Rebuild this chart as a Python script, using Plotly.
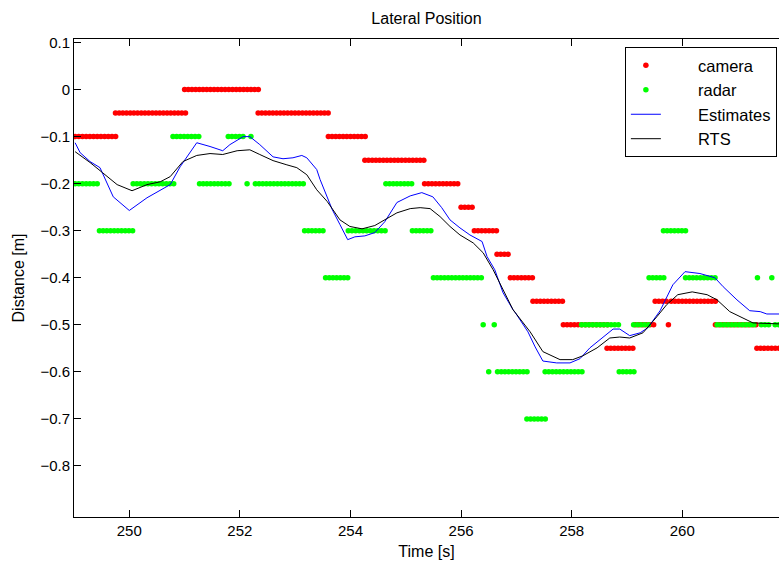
import numpy as np
import plotly.graph_objects as go

# ---- Camera measurements: runs of constant value (start time, end time, value) ----
camera_t_start = [249.02, 249.75, 251.00, 252.33, 253.60, 254.26, 255.34, 256.00, 256.24, 256.65,
                  256.89, 257.30, 257.85, 258.64, 259.15, 259.51, 259.75, 259.80, 260.60, 261.35]
camera_t_end   = [249.74, 250.99, 252.31, 253.58, 254.24, 255.32, 255.97, 256.22, 256.63, 256.87,
                  257.28, 257.83, 258.62, 259.13, 259.49, 259.71, 259.75, 260.58, 261.32, 261.75]
camera_value   = [-0.10, -0.05, 0.00, -0.05, -0.10, -0.15, -0.20, -0.25, -0.30, -0.35,
                  -0.40, -0.45, -0.50, -0.55, -0.50, -0.45, -0.50, -0.45, -0.50, -0.55]

# ---- Radar measurements: runs of constant value ----
radar_t_start = [249.02, 249.46, 250.07, 250.79, 251.27, 251.79, 252.13, 252.20, 252.28, 253.17,
                 253.55, 253.96, 254.64, 255.12, 255.50, 256.40, 256.50, 256.60, 256.66, 257.19,
                 257.52, 258.18, 258.86, 259.12, 259.40, 259.66, 260.06, 260.63, 261.36, 261.43,
                 261.62, 261.68]
radar_t_end   = [249.44, 250.05, 250.77, 251.25, 251.77, 252.07, 252.13, 252.20, 253.15, 253.53,
                 253.94, 254.62, 255.10, 255.48, 256.38, 256.40, 256.50, 256.60, 257.17, 257.50,
                 258.16, 258.84, 259.10, 259.38, 259.64, 260.04, 260.61, 261.32, 261.36, 261.58,
                 261.62, 261.75]
radar_value   = [-0.2, -0.3, -0.2, -0.1, -0.2, -0.1, -0.2, -0.1, -0.2, -0.3,
                 -0.4, -0.3, -0.2, -0.3, -0.4, -0.5, -0.6, -0.5, -0.6, -0.7,
                 -0.6, -0.5, -0.6, -0.5, -0.4, -0.3, -0.4, -0.5, -0.4, -0.5,
                 -0.4, -0.5]

sample_dt = 1.0 / 15.0  # sensor sample period

# ---- Filter estimates ----
est_t = [249.02, 249.11, 249.29, 249.47, 249.71, 250.00, 250.32, 250.74, 250.92, 251.22,
         251.46, 251.69, 251.82, 252.06, 252.18, 252.36, 252.60, 252.78, 252.96, 253.12,
         253.21, 253.39, 253.45, 253.54, 253.67, 253.81, 253.95, 254.08, 254.26, 254.44,
         254.62, 254.84, 255.08, 255.29, 255.49, 255.65, 255.80, 255.98, 256.16, 256.38,
         256.47, 256.61, 256.76, 256.94, 256.98, 257.21, 257.34, 257.48, 257.73, 257.97,
         258.15, 258.33, 258.51, 258.75, 258.87, 259.05, 259.24, 259.38, 259.60, 259.83,
         260.05, 260.32, 260.59, 260.74, 260.99, 261.22, 261.41, 261.53, 261.75]
est_v = [-0.113, -0.134, -0.153, -0.166, -0.228, -0.257, -0.230, -0.202, -0.164, -0.113,
         -0.121, -0.130, -0.117, -0.100, -0.100, -0.117, -0.143, -0.147, -0.145, -0.140,
         -0.145, -0.170, -0.191, -0.219, -0.255, -0.287, -0.319, -0.313, -0.311, -0.304,
         -0.281, -0.240, -0.226, -0.219, -0.228, -0.251, -0.277, -0.294, -0.309, -0.323,
         -0.355, -0.383, -0.432, -0.468, -0.474, -0.515, -0.547, -0.577, -0.581, -0.581,
         -0.572, -0.549, -0.532, -0.509, -0.509, -0.523, -0.517, -0.506, -0.470, -0.415,
         -0.387, -0.391, -0.400, -0.419, -0.447, -0.470, -0.472, -0.477, -0.477]

# ---- RTS smoother ----
rts_t = [249.02, 249.29, 249.52, 249.78, 250.05, 250.32, 250.56, 250.74, 250.97, 251.22,
         251.46, 251.69, 251.95, 252.18, 252.36, 252.60, 252.85, 253.03, 253.21, 253.39,
         253.58, 253.68, 253.81, 253.99, 254.21, 254.44, 254.62, 254.84, 255.08, 255.26,
         255.44, 255.62, 255.80, 255.98, 256.22, 256.40, 256.58, 256.76, 256.94, 257.25,
         257.48, 257.79, 258.02, 258.20, 258.46, 258.69, 258.87, 259.05, 259.29, 259.54,
         259.72, 259.92, 260.18, 260.45, 260.63, 260.86, 261.08, 261.28, 261.75]
rts_v = [-0.132, -0.155, -0.177, -0.202, -0.215, -0.202, -0.196, -0.185, -0.153, -0.140,
         -0.136, -0.138, -0.130, -0.128, -0.138, -0.151, -0.160, -0.166, -0.181, -0.213,
         -0.238, -0.255, -0.277, -0.291, -0.296, -0.289, -0.277, -0.262, -0.253, -0.251,
         -0.253, -0.270, -0.291, -0.309, -0.326, -0.347, -0.383, -0.426, -0.468, -0.515,
         -0.557, -0.574, -0.574, -0.566, -0.549, -0.528, -0.526, -0.528, -0.517, -0.483,
         -0.457, -0.436, -0.430, -0.436, -0.447, -0.472, -0.485, -0.496, -0.498]

x_ticks = [250, 252, 254, 256, 258, 260]
y_ticks = [0.1, 0, -0.1, -0.2, -0.3, -0.4, -0.5, -0.6, -0.7, -0.8]
series_names = ["camera", "radar", "Estimates", "RTS"]


def expand_runs(starts, ends, values, dt):
    ts, vs = [], []
    for s, e, v in zip(starts, ends, values):
        n = max(1, int(round((e - s) / dt)) + 1)
        for k in range(n):
            ts.append(s + k * dt if n > 1 else s)
            vs.append(v)
    return ts, vs


cam_t, cam_v = expand_runs(camera_t_start, camera_t_end, camera_value, sample_dt)
rad_t, rad_v = expand_runs(radar_t_start, radar_t_end, radar_value, sample_dt)

PAD = "\u00a0" * 7
FONT = "Liberation Sans, Arial, sans-serif"
fig = go.Figure()
fig.add_trace(go.Scatter(x=cam_t, y=cam_v, mode="markers", name=PAD + series_names[0],
                         marker=dict(color="#ff0000", size=5.5, line=dict(width=0))))
fig.add_trace(go.Scatter(x=rad_t, y=rad_v, mode="markers", name=PAD + series_names[1],
                         marker=dict(color="#00ff00", size=5.5, line=dict(width=0))))
fig.add_trace(go.Scatter(x=est_t, y=est_v, mode="lines", name=PAD + series_names[2],
                         line=dict(color="#0000ff", width=1)))
fig.add_trace(go.Scatter(x=rts_t, y=rts_v, mode="lines", name=PAD + series_names[3],
                         line=dict(color="#000000", width=1)))

fig.update_layout(
    width=779, height=572,
    margin=dict(l=74, r=0, t=39, b=55),
    paper_bgcolor="white", plot_bgcolor="white",
    font=dict(family=FONT, size=15, color="black"),
    title=dict(text="Lateral Position", x=0.5, xref="paper", xanchor="center",
               y=1 - 18 / 572, yref="container", yanchor="middle",
               font=dict(family=FONT, size=16, color="black")),
    xaxis=dict(range=[249.0, 261.75], tickvals=x_ticks, ticktext=[str(v) for v in x_ticks],
               ticks="inside", ticklen=7, tickcolor="black", showline=True, linecolor="black",
               linewidth=1, mirror="ticks", showgrid=False, zeroline=False,
               tickfont=dict(size=15),
               title=dict(text="Time [s]", standoff=7, font=dict(size=16))),
    yaxis=dict(range=[-0.9085, 0.1075], tickvals=y_ticks,
               ticks="inside", ticklen=7, tickcolor="black", showline=True, linecolor="black",
               linewidth=1, mirror=False, showgrid=False, zeroline=False,
               tickfont=dict(size=15),
               title=dict(text="Distance [m]", standoff=11, font=dict(size=16))),
    legend=dict(x=0.997, y=0.983, xanchor="right", yanchor="top",
                bgcolor="white", bordercolor="black", borderwidth=1,
                font=dict(size=16.5), tracegroupgap=0),
    showlegend=True,
)

fig.write_html("out.html")
